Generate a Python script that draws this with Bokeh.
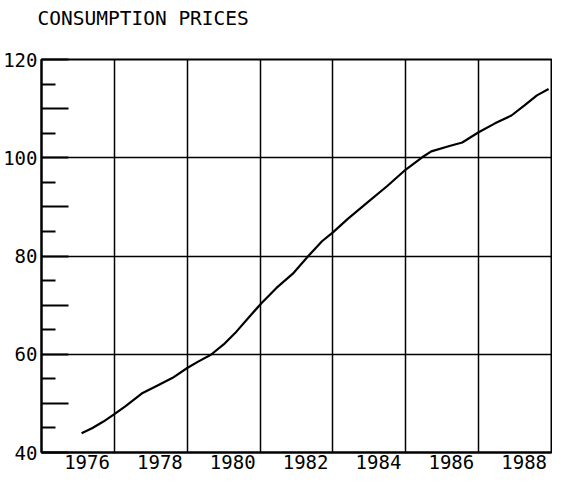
from bokeh.plotting import figure
from bokeh.models import FixedTicker, Range1d, PrintfTickFormatter, Title
from bokeh.embed import file_html
from bokeh.resources import INLINE

title_text = "CONSUMPTION PRICES"
years = [1976.10, 1976.40, 1976.70, 1977.00, 1977.30, 1977.75, 1978.20, 1978.60,
         1979.00, 1979.30, 1979.65, 1980.00, 1980.35, 1980.70, 1981.05, 1981.45,
         1981.90, 1982.30, 1982.70, 1983.00, 1983.40, 1983.95, 1984.50, 1985.00,
         1985.45, 1985.70, 1986.20, 1986.55, 1987.00, 1987.45, 1987.90, 1988.25,
         1988.60, 1988.92]
prices = [43.9, 45.0, 46.3, 47.8, 49.4, 52.0, 53.7, 55.2,
          57.2, 58.5, 59.9, 62.0, 64.6, 67.6, 70.5, 73.5,
          76.4, 79.8, 83.0, 84.8, 87.5, 90.9, 94.3, 97.6,
          100.1, 101.3, 102.4, 103.1, 105.2, 107.0, 108.6, 110.6,
          112.7, 114.0]
year_labels = [1976, 1978, 1980, 1982, 1984, 1986, 1988]
grid_years = [1977, 1979, 1981, 1983, 1985, 1987]
y_labels = [40, 60, 80, 100, 120]
y_mid = [50, 70, 90, 110]
y_minor = [45, 55, 65, 75, 85, 95, 105, 115]

FONT = "DejaVu Sans Mono"

p = figure(width=552, height=471, output_backend="svg", toolbar_location=None,
           x_range=Range1d(1975, 1989), y_range=Range1d(40, 120),
           min_border_left=39, min_border_right=1, min_border_top=59, min_border_bottom=0,
           title=title_text)

p.title.text_font = FONT
p.title.text_font_size = "19.5px"
p.title.text_font_style = "normal"
p.title.text_color = "black"
p.title.offset = -4
p.title.vertical_align = "top"
p.title.standoff = 6

# empty spacer between the title and the frame
p.add_layout(Title(text=" ", text_font_size="1px", standoff=22), "above")

p.line(years, prices, line_color="black", line_width=2.2)

# x axis
p.xaxis.ticker = FixedTicker(ticks=[y + 0.25 for y in year_labels], minor_ticks=[])
p.xaxis.formatter = PrintfTickFormatter(format="%d")
p.xaxis.major_tick_in = 0
p.xaxis.major_tick_out = 0
p.xaxis.minor_tick_line_color = None
p.xaxis.major_label_standoff = 2
p.xaxis.major_label_text_font = FONT
p.xaxis.major_label_text_font_size = "19px"
p.xaxis.major_label_text_color = "black"
p.xaxis.axis_line_width = 2
p.xaxis.axis_line_color = "black"

# y axis
p.yaxis.ticker = FixedTicker(ticks=sorted(y_labels + y_mid), minor_ticks=y_minor)
p.yaxis.major_label_overrides = {v: "" for v in y_mid}
p.yaxis.major_tick_in = 27
p.yaxis.major_tick_out = 0
p.yaxis.minor_tick_in = 14
p.yaxis.minor_tick_out = 0
p.yaxis.major_tick_line_width = 2
p.yaxis.minor_tick_line_width = 2
p.yaxis.major_tick_line_color = "black"
p.yaxis.minor_tick_line_color = "black"
p.yaxis.major_label_standoff = 4
p.yaxis.major_label_text_font = FONT
p.yaxis.major_label_text_font_size = "19px"
p.yaxis.major_label_text_color = "black"
p.yaxis.axis_line_width = 2
p.yaxis.axis_line_color = "black"

# grids
p.xgrid.ticker = FixedTicker(ticks=grid_years)
p.ygrid.ticker = FixedTicker(ticks=y_labels)
p.xgrid.grid_line_color = "black"
p.ygrid.grid_line_color = "black"
p.xgrid.grid_line_width = 1.5
p.ygrid.grid_line_width = 1.5
p.xgrid.grid_line_alpha = 1
p.ygrid.grid_line_alpha = 1

p.outline_line_color = "black"
p.outline_line_width = 2
p.background_fill_color = "white"
p.border_fill_color = "white"

open("out.html", "w").write(file_html(p, INLINE))
